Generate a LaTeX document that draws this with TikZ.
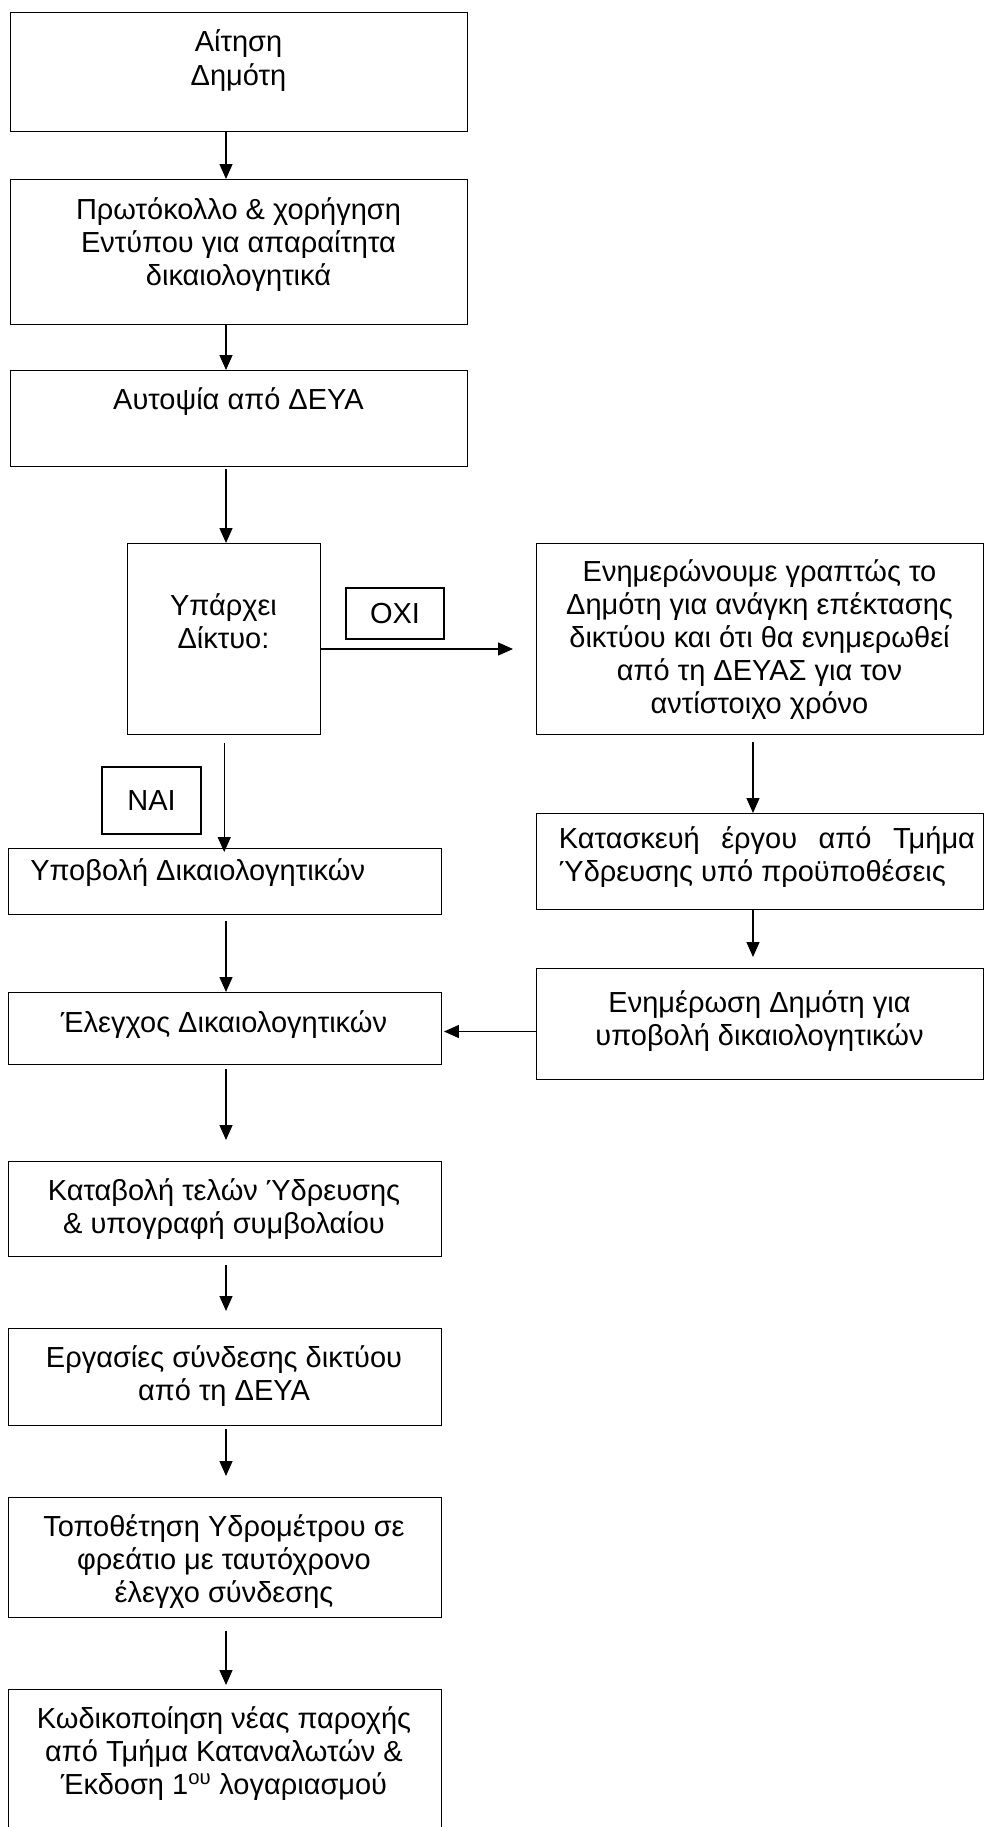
\documentclass[tikz,border=0pt]{standalone}
\usepackage{fontspec}
\setmainfont{Liberation Sans}
\usetikzlibrary{arrows.meta,calc}
\newcommand{\mytxt}[1]{\parbox[t]{330pt}{\centering #1}}
\begin{document}
\begin{tikzpicture}[x=0.75pt,y=-0.75pt,
  box/.style={draw, line width=1.1pt, inner sep=0pt, anchor=north west},
  lbl/.style={draw, line width=1.1pt, inner sep=0pt, font=\fontsize{21.75}{24.75}\selectfont},
  txt/.style={inner sep=0pt, anchor=base, font=\fontsize{21.75}{24.75}\selectfont},
  arr/.style={line width=1pt, -{Triangle[length=11.25pt,width=9.75pt]}}]
\useasboundingbox (0,0) rectangle (984,1827);
% boxes
\node[box, minimum width=342.75pt, minimum height=89.25pt] (b1) at (10,12) {};
\node[box, minimum width=342.75pt, minimum height=108.75pt] (b2) at (10,179) {};
\node[box, minimum width=342.75pt, minimum height=72pt] (b3) at (10,370) {};
\node[box, minimum width=144.75pt, minimum height=143.25pt] (b4) at (127,543) {};
\node[box, minimum width=335.25pt, minimum height=143.25pt] (r1) at (536,543) {};
\node[box, minimum width=335.25pt, minimum height=72pt] (r2) at (536,813) {};
\node[box, minimum width=335.25pt, minimum height=83.25pt] (r3) at (536,968) {};
\node[box, minimum width=324.75pt, minimum height=49.5pt] (yp) at (7.5,848) {};
\node[box, minimum width=324.75pt, minimum height=54pt] (el) at (7.5,992) {};
\node[box, minimum width=324.75pt, minimum height=71.25pt] (kat) at (7.5,1161) {};
\node[box, minimum width=324.75pt, minimum height=72.75pt] (erg) at (7.5,1328) {};
\node[box, minimum width=324.75pt, minimum height=90pt] (tpt) at (7.5,1497) {};
\node[box, minimum width=324.75pt, minimum height=117pt] (kod) at (7.5,1689) {};
% labels
\node[lbl, minimum width=73.5pt, minimum height=38.25pt] (oxi) at (395,613.5) {ΟΧΙ};
\node[lbl, minimum width=74.25pt, minimum height=50.25pt] (nai) at (151.5,800.5) {ΝΑΙ};
% texts
\node[txt] (t1) at (238.5,52) {\mytxt{Αίτηση\\Δημότη}};
\node[txt] (t2) at (238.5,219) {\mytxt{Πρωτόκολλο \& χορήγηση\\Εντύπου για απαραίτητα\\δικαιολογητικά}};
\node[txt] (t3) at (238.5,409) {\mytxt{Αυτοψία από ΔΕΥΑ}};
\node[txt] (t4) at (223.5,615) {\mytxt{Υπάρχει\\Δίκτυο:}};
\node[txt] (t5) at (759.5,581.5) {\mytxt{Ενημερώνουμε γραπτώς το\\Δημότη για ανάγκη επέκτασης\\δικτύου και ότι θα ενημερωθεί\\από τη ΔΕΥΑΣ για τον\\αντίστοιχο χρόνο}};
\node[txt, anchor=base west] (t6) at (558.7,848.7) {\parbox[t]{312pt}{\hbox to 312pt{Κατασκευή\hfill έργου\hfill από\hfill Τμήμα}\hbox{Ύδρευσης υπό προϋποθέσεις}}};
\node[txt] (t7) at (759.5,1012) {\mytxt{Ενημέρωση Δημότη για\\υποβολή δικαιολογητικών}};
\node[txt, anchor=base west] (t8) at (30,880) {Υποβολή Δικαιολογητικών};
\node[txt] (t9) at (224,1032) {\mytxt{Έλεγχος Δικαιολογητικών}};
\node[txt] (t10) at (224,1200) {\mytxt{Καταβολή τελών Ύδρευσης\\\& υπογραφή συμβολαίου}};
\node[txt] (t11) at (224,1367) {\mytxt{Εργασίες σύνδεσης δικτύου\\από τη ΔΕΥΑ}};
\node[txt] (t12) at (224,1536.5) {\mytxt{Τοποθέτηση Υδρομέτρου σε\\φρεάτιο με ταυτόχρονο\\έλεγχο σύνδεσης}};
\node[txt] (t13) at (224,1728.5) {\mytxt{Κωδικοποίηση νέας παροχής\\από Τμήμα Καταναλωτών \&\\Έκδοση 1\textsuperscript{ου} λογαριασμού}};
% connectors
\coordinate (ax) at (226,0);
\coordinate (rx) at (753,0);
\coordinate (oxiend) at (513,649);
\coordinate (ly) at (0,1031.5);
\draw[arr] (b1.south -| ax) -- (b2.north -| ax);
\draw[arr] (b2.south -| ax) -- (b3.north -| ax);
\draw[arr] ([yshift=-1.5pt]b3.south -| ax) -- (b4.north -| ax);
\draw[arr] (b4.east |- oxiend) -- (oxiend);
\draw[arr] ([yshift=-6pt]b4.south) -- ([yshift=-3pt]yp.north -| b4.south);
\draw[arr] ([yshift=-4.5pt]yp.south -| ax) -- (el.north -| ax);
\draw[arr] ([yshift=-5pt]r1.south -| rx) -- (r2.north -| rx);
\draw[arr] (r2.south -| rx) -- ([yshift=8.25pt]r3.north -| rx);
\draw[arr] (r3.west |- ly) -- ([xshift=1.5pt]el.east |- ly);
\draw[arr] ([yshift=-3pt]el.south -| ax) -- ([yshift=15.75pt]kat.north -| ax);
\draw[arr] ([yshift=-6pt]kat.south -| ax) -- ([yshift=12.75pt]erg.north -| ax);
\draw[arr] ([yshift=-2.25pt]erg.south -| ax) -- ([yshift=15.75pt]tpt.north -| ax);
\draw[arr] ([yshift=-9.75pt]tpt.south -| ax) -- ([yshift=3pt]kod.north -| ax);
\end{tikzpicture}
\end{document}
